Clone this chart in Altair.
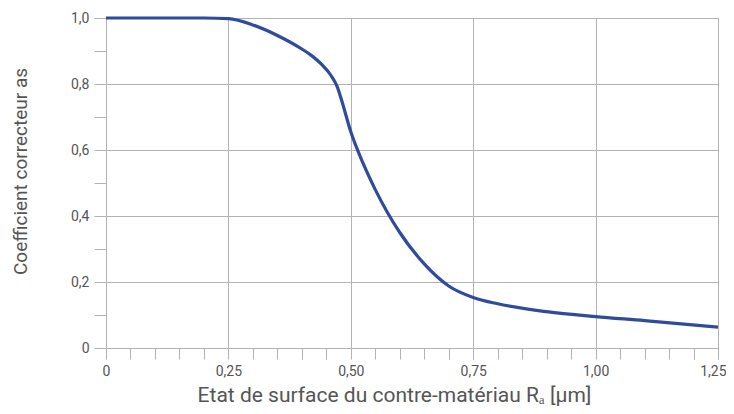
import altair as alt
import pandas as pd

ra = [0.0, 0.05, 0.10, 0.15, 0.20, 0.25, 0.30, 0.35, 0.40, 0.42, 0.44, 0.46, 0.472,
      0.482, 0.50, 0.525, 0.55, 0.60, 0.65, 0.70, 0.75, 0.80, 0.90, 1.00, 1.10, 1.25]
a_s = [1.0, 1.0, 1.0, 1.0, 1.0, 0.998, 0.979, 0.947, 0.906, 0.886, 0.860, 0.825, 0.793,
       0.747, 0.655, 0.56, 0.48, 0.35, 0.255, 0.188, 0.153, 0.134, 0.11, 0.095, 0.083, 0.063]

x_ticks = [round(i * 0.05, 2) for i in range(26)]
y_ticks = [round(i * 0.1, 1) for i in range(11)]

df = pd.DataFrame({"ra": ra, "a_s": a_s})

FONT = "Roboto"
GRID = "#b3b3b3"

x_axis = alt.Axis(
    values=x_ticks,
    labelExpr="datum.value == 0 ? '0' : (round(datum.value*100) % 25 == 0 ? replace(format(datum.value, '.2f'), '.', ',') : '')",
    grid=True,
    gridColor=GRID,
    gridOpacity={"condition": {"test": "round(datum.value*100) % 25 == 0", "value": 1}, "value": 0},
    domain=False,
    tickColor=GRID,
    tickSize=11,
    labelPadding=5,
    labelFont=FONT,
    labelFontSize=14,
    labelColor="#555555",
    labelAlign={"condition": {"test": "datum.value >= 1.249", "value": "right"}, "value": "center"},
    labelOffset={"condition": {"test": "datum.value >= 1.249", "value": 8}, "value": 0},
    title="Etat de surface du contre-matériau Rₐ [µm]",
    titleFont=FONT,
    titleFontSize=21,
    titleFontWeight="normal",
    titleColor="#555555",
    titleX=288,
    titleY=53,
    titleBaseline="alphabetic",
    titleAnchor="middle",
    labelFlush=False,
)

y_axis = alt.Axis(
    values=y_ticks,
    labelExpr="datum.value == 0 ? '0' : (round(datum.value*10) % 2 == 0 ? replace(format(datum.value, '.1f'), '.', ',') : '')",
    grid=True,
    gridColor=GRID,
    gridOpacity={"condition": {"test": "round(datum.value*10) % 2 == 0", "value": 1}, "value": 0},
    domain=False,
    tickColor=GRID,
    tickSize=12,
    labelPadding=5,
    labelFont=FONT,
    labelFontSize=14,
    labelColor="#555555",
    title="Coefficient correcteur as",
    titleFont=FONT,
    titleFontSize=19,
    titleFontWeight="normal",
    titleColor="#555555",
    titleX=-86,
    titleY=153,
    titleBaseline="middle",
    titleAnchor="middle",
    titleAngle=-90,
    labelFlush=False,
)

chart = alt.Chart(df).mark_line(
    color="#2f4b9b", strokeWidth=3.2, interpolate="monotone"
).encode(
    x=alt.X("ra:Q", scale=alt.Scale(domain=[0, 1.25], nice=False), axis=x_axis),
    y=alt.Y("a_s:Q", scale=alt.Scale(domain=[0, 1.0], nice=False), axis=y_axis),
).properties(
    width=612,
    height=330,
    padding={"left": 98, "top": 10, "right": 8, "bottom": 58},
    autosize=alt.AutoSizeParams(type="none"),
).configure_view(
    stroke=None
).configure(
    background="white"
)

chart.save("out.html", embed_options={"renderer": "svg", "actions": False})
